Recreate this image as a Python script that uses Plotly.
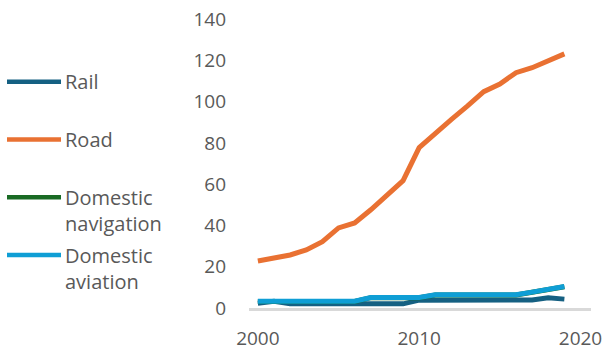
import plotly.graph_objects as go

# Transport energy use by mode, 2000-2019
years = list(range(2000, 2020))

rail = [2.3, 3.3, 2.0, 2.0, 2.0, 2.0, 2.0, 2.0, 2.0, 2.0,
        3.8, 3.9, 3.9, 3.9, 3.9, 3.9, 3.9, 3.9, 5.0, 4.3]
road = [22.8, 24.2, 25.7, 28.1, 32.1, 38.8, 41.2, 47.6, 54.6, 61.7,
        77.7, 84.9, 91.4, 97.9, 104.8, 108.5, 114.0, 116.4, 119.7, 123.1]
domestic_navigation = [3.2, 3.2, 3.2, 3.2, 3.2, 3.2, 3.2, 5.0, 5.0, 5.0,
                       5.0, 6.3, 6.3, 6.3, 6.3, 6.3, 6.3, 7.6, 8.7, 10.3]
domestic_aviation = [3.3, 3.3, 3.3, 3.3, 3.3, 3.3, 3.3, 5.1, 5.1, 5.1,
                     5.1, 6.4, 6.4, 6.4, 6.4, 6.4, 6.4, 7.7, 8.8, 10.4]

series_names = ["Rail", "Road", "Domestic<br>navigation", "Domestic<br>aviation"]
series_values = [rail, road, domestic_navigation, domestic_aviation]
series_colors = ["#156082", "#E97132", "#196B24", "#0F9ED5"]

y_ticks = [0, 20, 40, 60, 80, 100, 120, 140]
x_ticks = [2000, 2010, 2020]

W, H = 608, 356
ML, MR, MT, MB = 249, 17, 19, 48
PW, PH = W - ML - MR, H - MT - MB

FONT = "Open Sans"
GREY = "#595959"


def paper_x(px):
    return (px - ML) / PW


def paper_y(py):
    return (H - MB - py) / PH


fig = go.Figure()
for name, vals, col in zip(series_names, series_values, series_colors):
    fig.add_trace(go.Scatter(
        x=years, y=vals, mode="lines", name=name.replace("<br>", " "),
        line=dict(color=col, width=5), showlegend=False,
    ))

# Legend drawn at the left of the chart: coloured key line + label
legend_font = 20
line_h = 1.3 * legend_font
first_y, step = 81.7, 57.8
shapes, annotations = [], []
for i, (name, col) in enumerate(zip(series_names, series_colors)):
    cy = first_y + i * step
    shapes.append(dict(
        type="line", xref="paper", yref="paper",
        x0=paper_x(7), x1=paper_x(61), y0=paper_y(cy), y1=paper_y(cy),
        line=dict(color=col, width=4.5), layer="above",
    ))
    n_lines = name.count("<br>") + 1
    annotations.append(dict(
        xref="paper", yref="paper", x=paper_x(63), y=paper_y(cy),
        xanchor="left", yanchor="middle", align="left",
        yshift=-(n_lines - 1) * line_h / 2,
        text=name, showarrow=False,
        font=dict(family=FONT, size=legend_font, color=GREY),
    ))

fig.update_layout(
    width=W, height=H,
    margin=dict(l=ML, r=MR, t=MT, b=MB, pad=0, autoexpand=False),
    paper_bgcolor="white", plot_bgcolor="white",
    showlegend=False,
    shapes=shapes, annotations=annotations,
    font=dict(family=FONT, color=GREY),
    xaxis=dict(
        range=[1999.45, 2020.65], tickvals=x_ticks, ticktext=[str(v) for v in x_ticks],
        showgrid=False, zeroline=False, showline=True,
        linecolor="#D9D9D9", linewidth=2.5, ticks="",
        ticklabelstandoff=11, automargin=False,
        tickfont=dict(family=FONT, size=19, color=GREY),
    ),
    yaxis=dict(
        range=[0, 140], tickvals=y_ticks,
        showgrid=False, zeroline=False, showline=False, ticks="",
        ticklabelstandoff=22, automargin=False,
        tickfont=dict(family=FONT, size=19, color=GREY),
    ),
)

fig.write_html("out.html")
